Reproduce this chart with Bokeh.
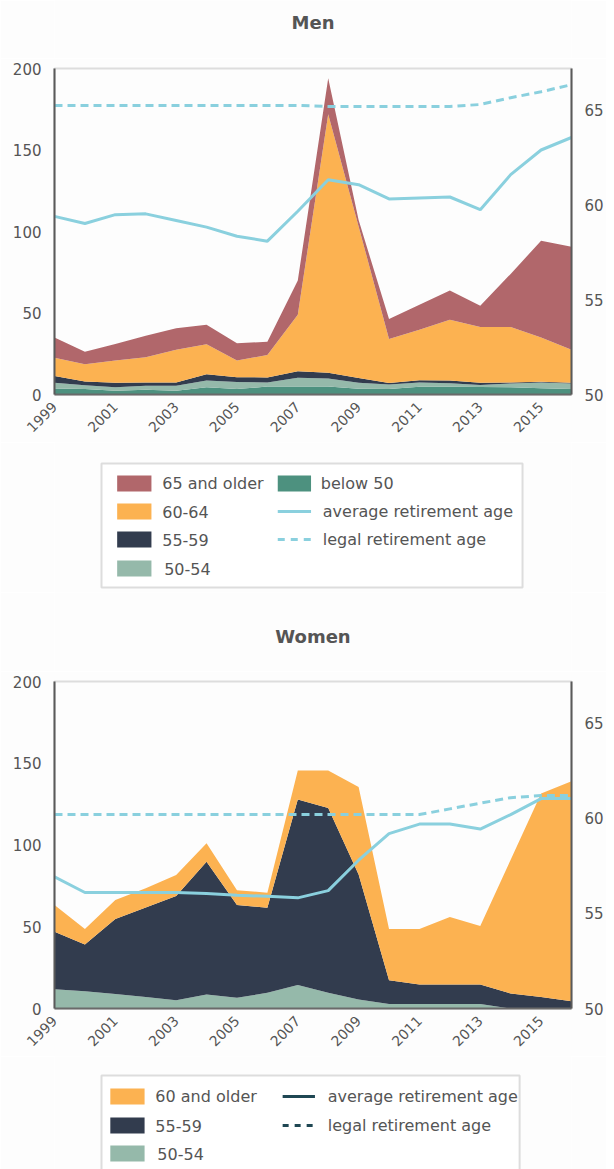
import math
from bokeh.plotting import figure
from bokeh.models import Range1d, LinearAxis, FixedTicker, ColumnDataSource
from bokeh.core.properties import value
from bokeh.layouts import column
from bokeh.embed import file_html
from bokeh.resources import INLINE

# ---------------- data ----------------
years = list(range(1999, 2017))
x_ticks = [1999, 2001, 2003, 2005, 2007, 2009, 2011, 2013, 2015]
left_ticks = [0, 50, 100, 150, 200]
right_ticks = [50, 55, 60, 65]

# Men (numbers of new retirees, stacked)
men_below50 = [3.7, 3.3, 2.3, 2.9, 2.3, 4.5, 3.3, 4.9, 4.9, 4.9, 3.5, 3.4, 4.8, 4.8, 4.6, 4.5, 3.8, 3.4]
men_50_54 = [3.5, 2.3, 2.2, 2.4, 3.0, 4.1, 4.3, 2.5, 5.3, 4.9, 3.7, 2.7, 2.6, 2.1, 1.2, 2.3, 3.6, 3.4]
men_55_59 = [4.1, 2.4, 2.7, 2.0, 2.0, 3.8, 3.0, 3.1, 4.0, 3.6, 2.9, 0.9, 1.4, 1.7, 1.4, 0.5, 0.4, 0.4]
men_60_64 = [11.3, 10.5, 13.6, 15.5, 20.1, 18.5, 10.2, 13.8, 34.8, 158.6, 92.9, 27.0, 30.9, 37.3, 34.2, 34.1, 27.1, 20.2]
men_65_up = [12.4, 7.8, 10.2, 13.2, 13.3, 11.9, 10.7, 8.0, 21.0, 22.0, 4.0, 12.3, 15.3, 17.9, 13.1, 32.6, 59.4, 63.3]
men_avg_age = [59.4, 59.02, 59.49, 59.53, 59.18, 58.83, 58.35, 58.09, 59.67, 61.33, 61.07, 60.32, 60.37, 60.42, 59.75, 61.6, 62.9, 63.56]
men_legal_age = [65.25, 65.25, 65.25, 65.25, 65.25, 65.25, 65.25, 65.25, 65.25, 65.2, 65.2, 65.2, 65.2, 65.2, 65.3, 65.66, 65.97, 66.35]

# Women
women_50_54 = [11.8, 10.6, 8.8, 7.1, 5.1, 8.6, 6.5, 9.6, 14.3, 9.6, 5.5, 2.7, 2.7, 2.7, 2.7, 0.0, 0.0, 0.0]
women_55_59 = [35.2, 28.6, 45.9, 54.7, 63.7, 81.2, 56.8, 52.0, 113.5, 113.1, 76.5, 14.6, 12.0, 12.0, 12.0, 9.2, 7.1, 4.5]
women_60_up = [16.3, 9.4, 11.6, 11.7, 12.8, 11.2, 9.1, 9.2, 17.8, 22.9, 53.4, 31.3, 33.9, 41.3, 35.7, 81.8, 124.4, 134.5]
women_avg_age = [56.93, 56.1, 56.1, 56.1, 56.1, 56.05, 55.96, 55.9, 55.82, 56.2, 57.8, 59.2, 59.7, 59.7, 59.44, 60.2, 61.04, 61.04]
women_legal_age = [60.2, 60.2, 60.2, 60.2, 60.2, 60.2, 60.2, 60.2, 60.2, 60.2, 60.2, 60.2, 60.2, 60.5, 60.8, 61.09, 61.2, 61.2]

# titles and legend labels
men_title = "Men"
women_title = "Women"
men_area_labels = ["65 and older", "60-64", "55-59", "50-54"]
men_col2_labels = ["below 50", "average retirement age", "legal retirement age"]
women_area_labels = ["60 and older", "55-59", "50-54"]
women_line_labels = ["average retirement age", "legal retirement age"]

# ---------------- style ----------------
BG = "#fdfdfd"
TXT = "#555555"
FONT = "DejaVu Sans"
C_65 = "#b1676b"
C_60 = "#fcb251"
C_55 = "#323c4e"
C_50 = "#95b9aa"
C_B50 = "#4d917f"
C_LINE = "#8ad0de"
C_DARK = "#1f4753"
W = 606
FRAME_L = 54
FRAME_W = 528
TOP = 10


def chart_fig(frame_h, bottom):
    p = figure(width=W, height=TOP + frame_h + bottom,
               x_range=Range1d(1999, 2016), y_range=Range1d(0, 200),
               output_backend="svg", toolbar_location=None,
               min_border_left=FRAME_L, min_border_right=W - FRAME_L - FRAME_W,
               min_border_top=TOP, min_border_bottom=bottom,
               background_fill_color=BG, border_fill_color=BG,
               outline_line_color="#dddddd", outline_line_width=2)
    p.extra_y_ranges = {"age": Range1d(50, 67.2)}
    p.grid.visible = False

    ya = p.yaxis[0]
    ya.ticker = FixedTicker(ticks=left_ticks)
    xa = p.xaxis[0]
    xa.ticker = FixedTicker(ticks=x_ticks)
    xa.major_label_orientation = math.pi / 4
    ra = LinearAxis(y_range_name="age", ticker=FixedTicker(ticks=right_ticks))
    p.add_layout(ra, "right")
    for ax in (ya, xa, ra):
        ax.axis_line_color = "#5a5a5a"
        ax.axis_line_width = 2
        ax.major_tick_line_color = None
        ax.minor_tick_line_color = None
        ax.major_label_text_font = FONT
        ax.major_label_text_color = TXT
        ax.major_label_text_font_size = "15px"
        ax.major_label_standoff = 7
    xa.major_label_text_font_size = "14px"
    xa.axis_line_color = "#6a6a6a"
    xa.major_label_standoff = 4
    return p


def blank_fig(height):
    # frames of a column are aligned with the chart frames, so the x range
    # is given in page pixels over the frame span
    q = figure(width=W, height=height, x_range=Range1d(FRAME_L, FRAME_L + FRAME_W),
               y_range=Range1d(height, 0), output_backend="svg",
               toolbar_location=None, min_border=0,
               min_border_left=FRAME_L, min_border_right=W - FRAME_L - FRAME_W,
               x_axis_location=None, y_axis_location=None,
               background_fill_color=BG, border_fill_color=BG,
               outline_line_color=None)
    q.grid.visible = False
    return q


def title_fig(height, text, y):
    t = blank_fig(height)
    t.text(x=[FRAME_L + FRAME_W / 2], y=[y], text=[text], text_font=value(FONT),
           text_font_size="18px", text_font_style="bold", text_color=TXT,
           text_baseline="middle", text_align="center")
    return t


def legend_text(q, xs, ys, labels):
    q.text(x=xs, y=ys, text=labels, text_font=value(FONT),
           text_font_size="16px", text_color=TXT,
           text_baseline="middle", text_align="left")


# ---------------- Men ----------------
t1 = title_fig(68 - TOP, men_title, 22)

src_m = ColumnDataSource(data=dict(year=years, b50=men_below50, a50=men_50_54,
                                   a55=men_55_59, a60=men_60_64, a65=men_65_up,
                                   avg=men_avg_age, legal=men_legal_age))
p1 = chart_fig(326, 48)
p1.varea_stack(stackers=["b50", "a50", "a55", "a60", "a65"], x="year",
               color=[C_B50, C_50, C_55, C_60, C_65], source=src_m)
p1.line("year", "avg", source=src_m, y_range_name="age",
        line_color=C_LINE, line_width=3)
p1.line("year", "legal", source=src_m, y_range_name="age",
        line_color=C_LINE, line_width=3, line_dash="8 5")

q1 = blank_fig(150)
q1.quad(left=[102], right=[532], top=[21], bottom=[145], fill_color="#ffffff",
        line_color="#dddddd", line_width=2)
rows1 = [41, 69, 97, 126]
q1.quad(left=[118] * 4, right=[153] * 4,
        top=[r - 8 for r in rows1], bottom=[r + 8 for r in rows1],
        fill_color=[C_65, C_60, C_55, C_50], line_color=None)
legend_text(q1, [164, 164, 164, 166], rows1, men_area_labels)
q1.quad(left=[282], right=[316], top=[rows1[0] - 8], bottom=[rows1[0] + 8],
        fill_color=C_B50, line_color=None)
q1.line(x=[282, 316], y=[rows1[1], rows1[1]], line_color=C_LINE, line_width=3)
q1.line(x=[282, 316], y=[rows1[2], rows1[2]], line_color=C_LINE, line_width=3,
        line_dash="7 6")
legend_text(q1, [326, 328, 328], rows1[:3], men_col2_labels)

# ---------------- Women ----------------
t2 = title_fig(89 - TOP, women_title, 44)

src_w = ColumnDataSource(data=dict(year=years, a50=women_50_54, a55=women_55_59,
                                   a60=women_60_up, avg=women_avg_age,
                                   legal=women_legal_age))
p2 = chart_fig(327, 48)
p2.varea_stack(stackers=["a50", "a55", "a60"], x="year",
               color=[C_50, C_55, C_60], source=src_w)
p2.line("year", "avg", source=src_w, y_range_name="age",
        line_color=C_LINE, line_width=3)
p2.line("year", "legal", source=src_w, y_range_name="age",
        line_color=C_LINE, line_width=3, line_dash="8 5")

q2 = blank_fig(113)
q2.quad(left=[102], right=[529], top=[19], bottom=[130], fill_color="#ffffff",
        line_color="#dddddd", line_width=2)
rows2 = [40, 69, 97]
q2.quad(left=[111] * 3, right=[146] * 3,
        top=[r - 8 for r in rows2], bottom=[r + 8 for r in rows2],
        fill_color=[C_60, C_55, C_50], line_color=None)
legend_text(q2, [157, 157, 159], rows2, women_area_labels)
q2.line(x=[287, 320], y=[rows2[0], rows2[0]], line_color=C_DARK, line_width=3)
q2.line(x=[287, 320], y=[rows2[1], rows2[1]], line_color=C_DARK, line_width=3,
        line_dash="6 6")
legend_text(q2, [333, 333], rows2[:2], women_line_labels)

layout = column(t1, p1, q1, t2, p2, q2, spacing=0)
open("out.html", "w").write(file_html(layout, INLINE))
